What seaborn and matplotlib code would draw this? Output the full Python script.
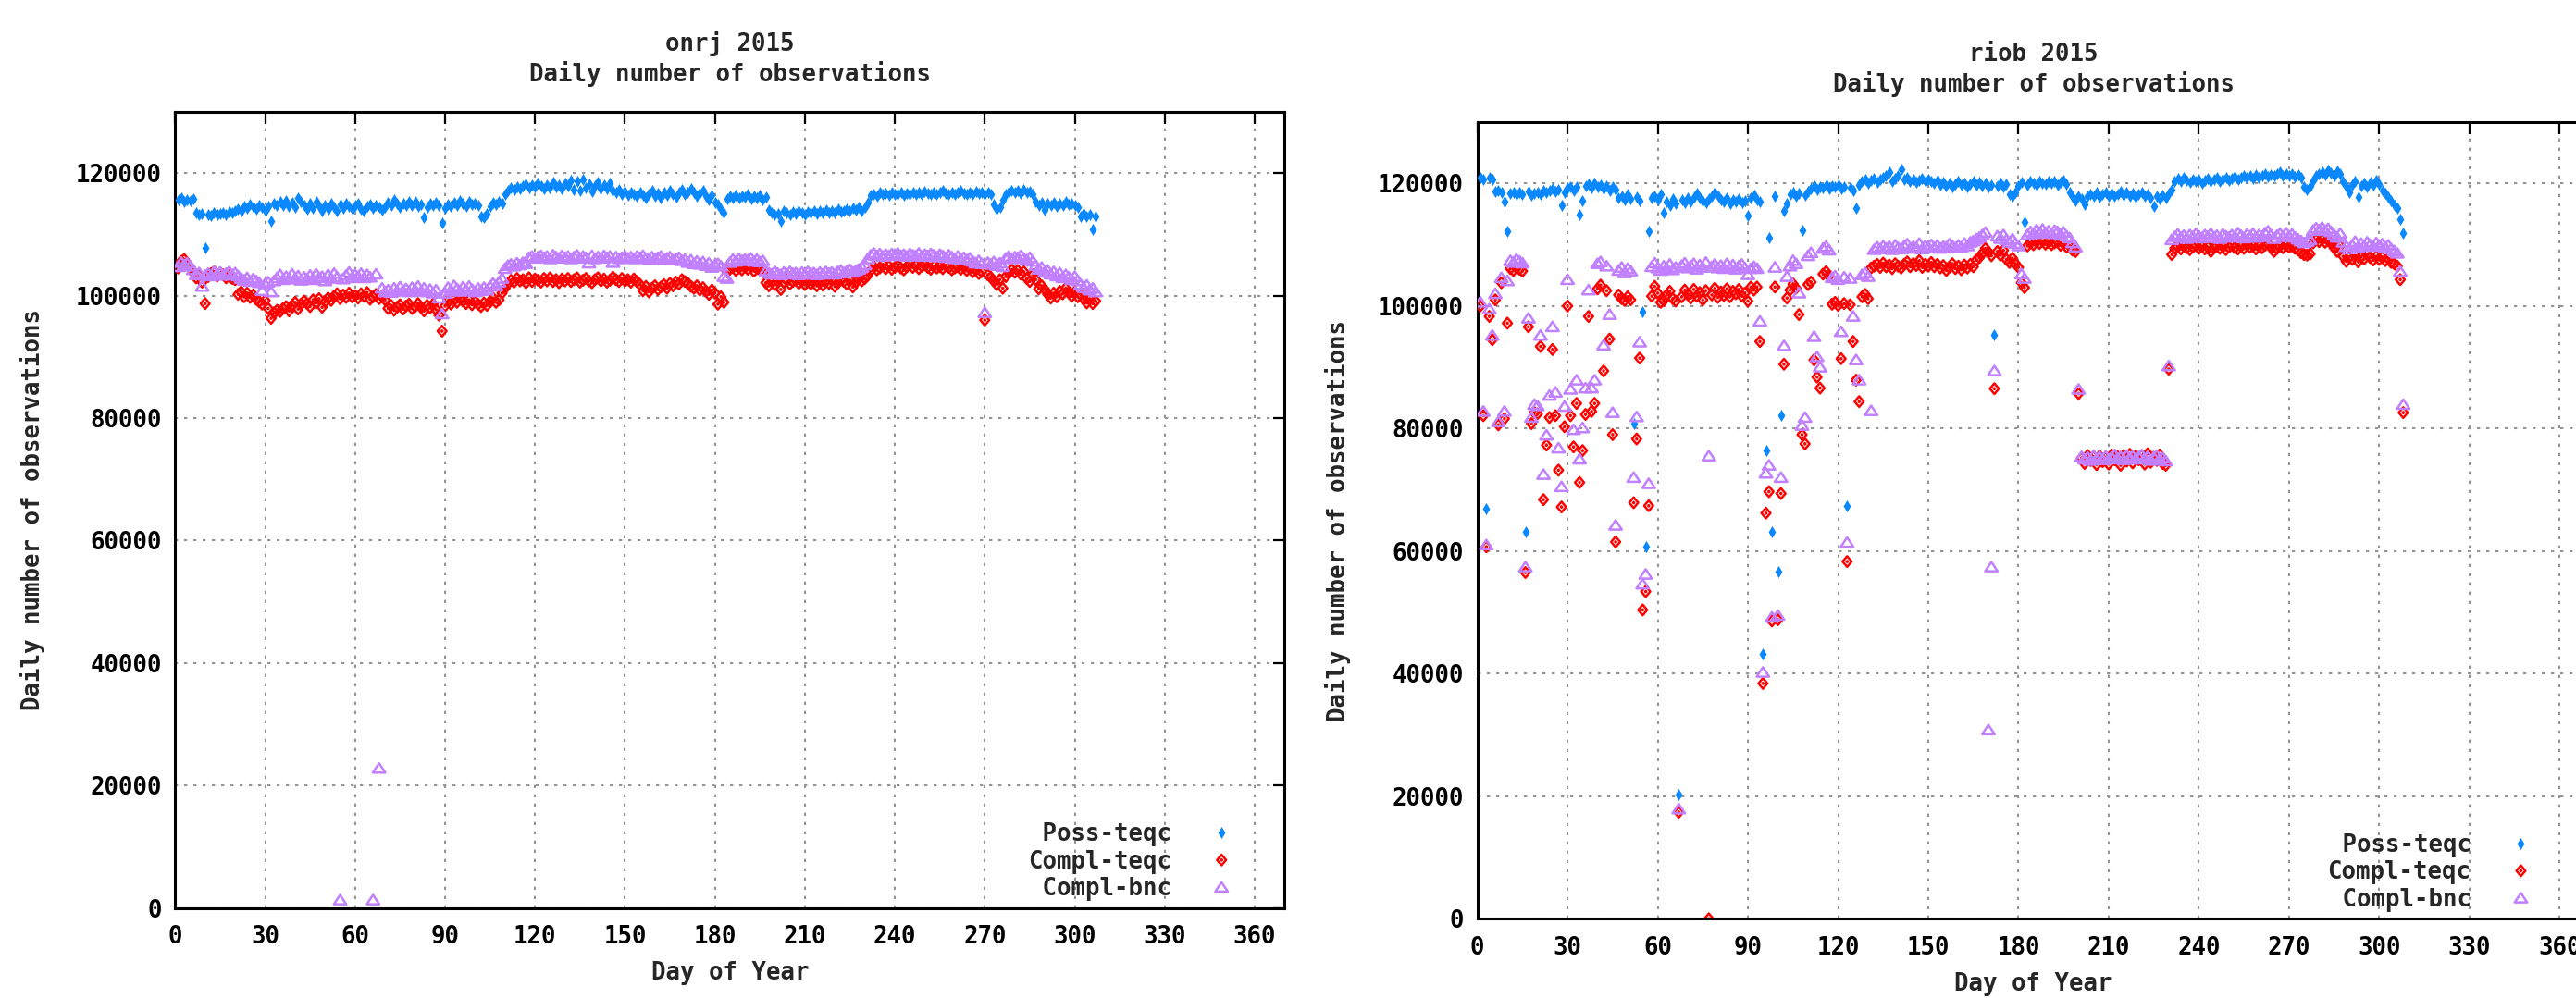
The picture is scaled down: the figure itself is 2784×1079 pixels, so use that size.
import numpy as np
import pandas as pd
import matplotlib
matplotlib.use("Agg")
import matplotlib.pyplot as plt
from matplotlib.path import Path
import seaborn as sns

# ---------------- data (thousands of observations, one value per day, day 1..N) ----------------
ONRJ_POSS = [
    115.6, 115.9, 115.4, 115.7, 115.5, 115.8, 113.5, 113.2, 113.4, 107.8,
    113.3, 113.1, 113.5, 113.2, 113.4, 113.6, 113.3, 113.7, 113.5, 113.9,
    114.2, 113.8, 114.6, 114.3, 114.9, 114.5, 114.2, 114.8, 114.4, 113.9,
    114.6, 112.1, 115.1, 114.7, 115.3, 114.8, 115.5, 114.6, 115.2, 114.4,
    115.9, 115.3, 114.7, 114.2, 115.0, 114.3, 115.4, 114.6, 113.9, 114.8,
    114.2, 115.1, 114.5, 113.8, 114.9, 114.3, 115.0, 114.6, 114.1, 114.8,
    115.0, 114.2, 113.8, 114.6, 114.9, 114.3, 114.7, 114.5, 114.0, 114.4,
    115.2, 114.8, 115.6, 115.1, 114.5, 115.0, 114.7, 115.4, 114.8, 115.3,
    114.6, 114.9, 112.8, 114.5, 115.1, 114.7, 115.2, 114.8, 111.8, 114.3,
    114.9, 114.6, 115.2, 114.8, 115.5, 115.0, 114.6, 115.3, 114.9, 115.1,
    114.7, 113.0, 112.8, 113.4, 114.6, 115.2, 114.9, 115.4, 115.0, 116.5,
    117.2, 117.6, 117.3, 117.8, 117.5, 117.9, 118.2, 117.6, 118.0, 117.7,
    118.3, 117.9, 117.4, 118.0, 117.6, 118.5, 117.8, 118.1, 117.5, 118.4,
    117.9, 118.8, 117.3, 118.6, 117.2, 118.9, 117.6, 118.2, 117.0, 117.9,
    118.5, 117.4, 118.0, 117.5, 118.3, 117.1, 116.8, 117.3, 116.6, 117.0,
    116.4, 116.9, 116.5, 116.2, 116.8, 116.4, 115.9, 116.6, 117.1, 116.3,
    116.7, 116.0, 116.9, 116.4, 117.2, 116.6, 116.1, 116.8, 117.3, 116.5,
    116.9, 117.4, 116.8, 116.2, 116.7, 117.1, 116.3, 115.6, 116.4, 115.2,
    114.9, 114.2, 113.6, 115.8, 116.2, 116.0, 116.4, 115.9, 116.3, 116.1,
    116.5, 115.8, 116.2, 116.0, 116.4, 115.7, 116.1, 114.0, 113.6, 113.2,
    113.4, 112.1, 113.8, 113.5, 113.3, 113.7, 113.4, 113.9, 113.6, 113.2,
    113.7, 113.5, 113.9, 113.4, 113.8, 113.6, 114.0, 113.5, 113.8, 113.6,
    114.1, 113.7, 113.9, 114.2, 113.8, 114.3, 114.0, 114.4, 113.9, 114.5,
    115.2, 116.4, 116.6, 116.3, 116.8, 116.5, 116.7, 116.4, 116.9, 116.6,
    116.5, 116.8, 116.4, 116.7, 116.6, 116.9, 116.5, 116.8, 116.6, 117.0,
    116.7, 116.5, 116.9, 116.6, 116.8, 117.1, 116.7, 116.5, 116.9, 116.6,
    116.8, 117.2, 116.7, 116.5, 116.9, 116.6, 117.0, 116.7, 116.8, 116.6,
    116.9, 116.5, 114.9, 114.2, 114.5, 115.6, 116.5, 116.9, 117.2, 116.8,
    117.1, 116.7, 117.3, 116.9, 117.0, 116.6, 115.3, 114.8, 115.2, 114.0,
    115.1, 114.7, 115.2, 114.6, 115.0, 114.8, 115.3, 114.9, 115.1, 114.7,
    114.5, 113.0, 113.4, 112.9, 113.3, 110.8, 113.0,
]
ONRJ_COMPL_TEQC = [
    104.5, 105.6, 105.9, 105.3, 104.6, 103.8, 102.9, 103.4, 102.2, 98.7,
    103.1, 103.6, 103.9, 103.2, 103.7, 103.4, 102.9, 103.5, 102.8, 102.6,
    100.2, 100.6, 99.8, 100.4, 99.7, 100.1, 99.4, 99.0, 98.6, 99.2,
    97.9, 96.3, 97.2, 97.6, 97.4, 97.9, 98.2, 97.5, 98.4, 98.9,
    97.8, 98.6, 99.1, 98.7, 98.2, 99.3, 98.8, 99.5, 98.1, 99.0,
    99.6, 99.2, 99.9, 100.3, 99.5, 100.1, 99.7, 100.4, 99.8, 100.0,
    99.6, 100.3, 99.9, 100.5, 99.4, 99.8, 100.2, 99.5, 99.9, 99.3,
    97.9, 98.4, 97.6, 98.1, 98.5, 97.8, 98.3, 98.6, 97.9, 98.2,
    98.7, 98.1, 97.5, 98.4, 98.0, 98.6, 97.7, 96.8, 94.2, 98.3,
    99.2, 98.6, 99.4, 98.9, 99.6, 99.1, 98.7, 99.3, 98.5, 99.0,
    98.6, 98.2, 98.8, 98.4, 99.0, 99.6, 98.9, 99.3, 100.4, 101.2,
    101.9, 102.5, 102.2, 102.8, 102.4, 102.6, 102.1, 102.9, 102.3, 102.7,
    102.5, 102.2, 102.8, 102.4, 102.9, 102.3, 102.6, 102.1, 102.7, 102.4,
    102.8, 102.3, 102.6, 102.9, 102.2, 102.5, 102.8, 102.4, 102.1, 102.6,
    102.9, 102.4, 102.7, 102.2, 102.5, 103.0, 102.6, 102.3, 102.8, 102.4,
    102.6, 102.2, 102.7, 102.3, 101.8, 100.8, 101.5, 100.6, 101.2, 101.6,
    101.0, 101.4, 101.8, 101.2, 102.0, 101.6, 102.2, 101.9, 102.6, 102.3,
    102.0, 101.5, 101.2, 101.6, 100.9, 101.3, 100.7, 100.2, 100.9, 100.4,
    98.6, 99.8, 98.9, 103.9, 104.3, 104.6, 104.1, 104.5, 104.2, 104.6,
    104.3, 104.7, 104.0, 104.4, 104.2, 103.8, 102.1, 101.6, 102.3, 101.8,
    102.4, 101.0, 102.2, 102.5, 101.9, 102.3, 102.6, 102.0, 102.4, 101.8,
    102.3, 101.9, 102.5, 101.6, 102.2, 101.7, 102.4, 102.0, 102.6, 101.5,
    102.1, 102.6, 102.3, 101.9, 102.5, 101.4, 102.2, 102.7, 102.4, 102.8,
    103.3, 104.1, 104.7, 104.2, 104.5, 105.1, 104.4, 104.8, 104.3, 104.6,
    104.9, 104.5, 104.2, 104.7, 105.2, 104.6, 104.9, 104.4, 104.8, 105.0,
    104.6, 104.3, 104.8, 104.5, 104.7, 104.4, 104.9, 104.6, 104.2, 104.5,
    104.7, 104.3, 104.6, 104.1, 104.4, 103.9, 104.2, 103.6, 103.9, 96.0,
    103.4, 103.0, 102.4, 101.8, 102.6, 101.2, 103.1, 103.7, 104.2, 103.8,
    104.1, 103.5, 103.9, 102.8, 102.3, 103.4, 102.6, 101.1, 101.6, 101.0,
    100.2, 99.6, 100.4, 99.8, 100.7, 100.3, 101.2, 100.5, 99.9, 100.6,
    99.8, 100.2, 99.4, 98.8, 99.5, 98.7, 99.1,
]
ONRJ_COMPL_BNC = [
    104.7, 105.4, 105.0, 105.3, 104.8, 104.2, 103.4, 103.7, 101.5, 103.3,
    103.6, 103.2, 103.9, 103.5, 103.8, 103.3, 103.6, 103.9, 103.4, 103.7,
    103.2, 102.8, 102.5, 102.9, 102.3, 102.7, 102.4, 102.1, 100.8, 101.9,
    102.2, 100.6, 102.4, 102.9, 103.4, 102.6, 103.1, 102.7, 103.5, 102.8,
    103.2, 102.5, 103.0, 102.7, 103.3, 102.6, 103.5, 102.9, 103.1, 102.4,
    103.4, 102.8, 103.6, 103.0, 1.3, 102.7, 103.3, 103.8, 102.9, 103.4,
    103.1, 103.6, 102.9, 103.4, 103.0, 1.3, 103.5, 22.8, 101.2, 100.6,
    100.9, 100.5, 101.2, 100.7, 101.4, 100.8, 101.1, 100.6, 101.3, 100.9,
    101.5, 100.7, 101.2, 100.6, 101.0, 100.4, 100.9, 99.6, 97.0, 100.4,
    101.3, 100.8, 101.6, 101.1, 100.7, 101.4, 100.9, 101.5, 101.0, 100.6,
    101.2, 100.8, 101.3, 100.9, 101.5, 102.0, 101.6, 102.2, 102.8, 104.4,
    104.9, 105.1, 104.8, 105.3, 105.0, 105.4, 105.2, 106.2, 106.4, 106.1,
    106.3, 106.5, 106.2, 106.4, 106.0, 106.6, 106.3, 106.1, 106.5, 106.2,
    106.4, 106.0, 106.3, 106.6, 106.1, 106.4, 106.2, 105.3, 106.5, 106.0,
    106.3, 106.1, 106.5, 106.2, 106.4, 105.4, 106.3, 106.0, 106.2, 106.4,
    106.1, 106.3, 106.0, 106.4, 106.2, 106.5, 106.1, 105.9, 106.3, 106.0,
    106.2, 106.4, 105.9, 106.1, 106.3, 105.8, 106.0, 106.2, 105.7, 105.9,
    105.4, 105.8, 105.2, 105.6, 105.1, 105.5, 104.9, 105.3, 104.6, 105.0,
    105.2, 104.8, 103.1, 102.8, 105.4, 105.9, 105.6, 106.0, 105.7, 105.9,
    105.8, 106.1, 105.6, 105.9, 105.5, 105.7, 104.0, 103.7, 103.5, 103.9,
    103.6, 103.4, 103.8, 103.5, 103.9, 103.6, 103.7, 103.4, 103.8, 103.5,
    103.9, 103.6, 103.7, 103.4, 103.8, 103.5, 103.9, 103.6, 103.8, 103.5,
    103.9, 104.1, 103.7, 104.0, 104.2, 103.8, 104.1, 104.3, 104.6, 105.0,
    106.0, 106.6, 106.9, 106.5, 106.8, 106.4, 106.7, 106.5, 106.8, 106.6,
    106.9, 106.5, 106.7, 106.4, 106.8, 106.6, 106.5, 106.9, 106.4, 106.7,
    106.5, 106.8, 106.6, 106.3, 106.7, 106.5, 106.2, 106.6, 106.3, 106.0,
    106.4, 105.9, 106.2, 105.8, 106.1, 105.6, 105.3, 105.7, 105.2, 97.2,
    105.4, 105.1, 105.5, 104.9, 105.3, 104.7, 106.1, 106.4, 106.0, 106.3,
    106.2, 106.5, 106.1, 105.8, 106.2, 105.6, 104.9, 104.3, 104.6, 103.8,
    104.1, 103.5, 103.9, 103.2, 103.7, 102.9, 103.4, 103.0, 102.6, 103.1,
    102.4, 101.8, 101.3, 101.7, 100.9, 101.2, 100.6,
]

RIOB_POSS = [
    120.9, 120.6, 66.9, 121.0, 120.7, 118.7, 118.9, 118.5, 117.0, 112.2,
    118.4, 118.6, 118.2, 118.5, 118.3, 63.2, 118.7, 118.1, 118.4, 118.6,
    118.2, 118.8, 118.5, 118.9, 119.2, 118.7, 119.0, 116.5, 118.6, 119.3,
    119.5, 118.8, 119.4, 114.9, 117.2, 119.6, 119.9, 119.3, 120.1, 119.5,
    119.8, 119.2, 119.6, 118.9, 119.4, 119.0, 117.6, 117.9, 117.3, 118.2,
    117.5, 80.8, 117.8, 117.2, 99.0, 60.7, 112.2, 117.6, 118.0, 117.4,
    118.2, 115.2, 117.0, 116.4, 117.5, 116.8, 20.3, 117.3, 116.9, 117.6,
    117.1, 117.8, 118.4, 117.6, 117.2, 116.9, 117.5, 118.0, 118.6, 117.9,
    117.4, 117.1, 117.6, 116.8, 117.3, 117.0, 117.5, 116.9, 117.2, 114.7,
    117.7, 118.1, 117.4, 117.0, 43.2, 76.5, 111.2, 63.1, 118.0, 56.6,
    82.1, 115.5, 116.7, 118.3, 118.6, 117.9, 118.4, 112.4, 118.1, 118.7,
    119.2, 119.6, 119.0, 119.5, 119.3, 119.8, 119.1, 119.6, 119.4, 119.7,
    119.2, 119.5, 67.4, 119.3, 118.8, 116.0, 119.8, 120.3, 120.6, 120.1,
    120.5, 120.8, 120.2, 120.6, 120.9, 121.2, 121.9, 120.4, 120.8, 121.3,
    122.3, 120.6, 120.9, 120.3, 120.7, 120.2, 120.5, 120.8, 120.4, 120.6,
    120.3, 120.1, 120.5, 119.8, 120.2, 119.6, 120.0, 119.4, 119.9, 120.3,
    119.7, 120.1, 119.5, 119.9, 120.4, 119.8, 120.2, 119.6, 120.0, 119.5,
    119.8, 95.3, 119.6, 120.1, 119.4, 119.9, 118.3, 118.0, 118.5, 119.6,
    120.2, 113.7, 119.8, 120.3, 120.0, 119.7, 120.4, 120.1, 119.9, 120.3,
    120.0, 120.4, 119.8, 120.2, 120.5, 119.9, 118.6, 117.8, 117.2, 117.9,
    117.5, 116.6, 117.9, 118.3, 118.0, 118.5, 117.8, 118.2, 118.6, 118.0,
    118.4, 117.9, 118.3, 118.7, 118.1, 118.5, 118.0, 118.4, 117.8, 118.2,
    118.6, 117.9, 118.3, 117.6, 116.2, 118.0, 117.5, 118.1, 117.7, 118.4,
    119.0, 120.3, 120.8, 120.4, 120.9, 120.5, 120.2, 120.7, 120.3, 120.6,
    120.1, 120.5, 120.8, 120.3, 120.6, 121.0, 120.4, 120.7, 120.9, 120.5,
    120.8, 121.1, 120.6, 121.0, 121.3, 120.9, 121.2, 120.8, 121.4, 121.0,
    121.3, 121.6, 121.1, 121.4, 121.2, 121.5, 121.8, 121.3, 121.6, 121.2,
    121.5, 121.1, 121.4, 120.9, 119.4, 119.0, 119.6, 120.5, 121.2, 121.6,
    121.9, 121.4, 122.1, 121.7, 121.3, 122.0, 121.5, 120.4, 119.5, 118.6,
    119.8, 120.3, 117.8, 119.6, 120.1, 119.4, 120.2, 119.7, 120.5, 119.9,
    118.9, 118.4, 117.8, 117.2, 116.5, 116.0, 114.2, 111.9,
]
RIOB_COMPL_TEQC = [
    100.0, 82.1, 60.7, 98.3, 94.5, 101.0, 80.6, 103.8, 81.6, 97.2,
    106.1, 105.8, 106.3, 106.0, 105.7, 56.5, 96.6, 80.8, 82.6, 82.4,
    93.4, 68.4, 77.3, 81.8, 92.9, 82.1, 73.2, 67.2, 80.3, 100.0,
    82.1, 77.0, 84.1, 71.2, 76.4, 82.3, 98.3, 82.8, 84.1, 102.8,
    103.4, 89.4, 102.5, 94.6, 79.0, 61.5, 101.8, 101.2, 100.9, 101.5,
    101.0, 67.9, 78.3, 91.5, 50.4, 53.4, 67.4, 101.6, 103.2, 102.1,
    100.6, 100.9, 101.8, 102.4, 101.2, 100.8, 17.4, 101.5, 102.6, 101.9,
    101.3, 102.7, 101.6, 102.2, 101.0, 102.5, 0.0, 101.8, 102.9, 101.4,
    102.3, 101.7, 102.8, 101.5, 102.4, 102.0, 102.7, 101.6, 102.1, 100.8,
    103.1, 102.6, 103.1, 94.2, 38.4, 66.2, 69.7, 48.6, 103.1, 48.8,
    69.4, 90.5, 101.3, 102.6, 103.6, 102.9, 98.6, 79.0, 77.5, 103.5,
    103.9, 91.2, 88.4, 86.6, 105.2, 105.6, 104.9, 100.3, 100.6, 100.1,
    91.4, 100.4, 58.3, 100.2, 94.2, 87.9, 84.4, 101.5, 101.9, 101.2,
    106.2, 106.5, 106.8, 106.3, 107.0, 106.4, 106.7, 106.1, 106.9, 106.5,
    106.2, 106.8, 107.2, 106.4, 106.9, 106.6, 107.4, 106.3, 106.8, 106.5,
    107.1, 106.4, 106.8, 106.2, 106.6, 105.8, 106.3, 106.9, 106.1, 106.5,
    105.9, 106.7, 106.2, 106.8, 106.4, 107.5, 107.9, 108.6, 109.4, 108.8,
    108.2, 86.5, 108.9, 108.3, 109.1, 107.6, 107.1, 107.8, 106.9, 106.3,
    103.8, 103.0, 109.8, 110.3, 110.0, 110.5, 110.2, 110.6, 110.1, 110.4,
    110.0, 110.3, 110.5, 109.9, 110.2, 109.6, 109.8, 109.1, 108.9, 85.7,
    75.2, 74.3, 75.6, 74.8, 75.4, 74.1, 75.5, 74.6, 75.3, 74.2,
    75.7, 74.9, 75.4, 74.0, 75.6, 74.7, 75.8, 74.4, 75.5, 74.9,
    75.6, 74.2, 75.9, 74.5, 75.3, 74.8, 75.7, 74.3, 74.0, 89.7,
    108.4, 109.4, 109.7, 109.3, 109.8, 109.5, 109.2, 109.6, 109.9, 109.4,
    109.7, 109.3, 109.6, 108.9, 109.5, 109.8, 109.4, 109.7, 109.2, 109.6,
    109.9, 109.5, 109.3, 109.7, 109.4, 110.0, 109.6, 109.8, 109.3, 109.7,
    109.5, 109.9, 110.1, 109.6, 108.9, 109.4, 109.8, 109.5, 109.9, 109.6,
    109.8, 109.4, 109.2, 108.7, 108.4, 108.3, 108.5, 110.3, 110.8, 110.5,
    110.9, 110.4, 110.7, 110.2, 109.5, 108.9, 109.8, 108.1, 107.3, 108.0,
    107.6, 108.3, 107.2, 108.0, 107.7, 108.4, 107.9, 107.5, 108.1, 107.6,
    108.0, 107.4, 107.8, 107.1, 106.9, 106.5, 104.3, 82.6,
]
RIOB_COMPL_BNC = [
    100.6, 82.8, 61.0, 99.5, 95.2, 102.0, 81.1, 104.6, 82.8, 104.1,
    107.4, 107.1, 107.6, 107.3, 107.0, 57.4, 98.0, 81.8, 83.9, 83.7,
    95.2, 72.5, 78.9, 85.4, 96.6, 85.9, 76.8, 70.5, 83.6, 104.3,
    86.4, 79.8, 87.9, 75.0, 80.1, 86.6, 102.6, 86.6, 87.9, 106.9,
    107.2, 93.6, 106.5, 98.6, 82.6, 64.2, 105.8, 106.3, 105.4, 106.1,
    105.7, 72.0, 81.9, 94.1, 54.6, 56.2, 71.0, 106.4, 107.0, 106.2,
    105.8, 106.5, 106.1, 106.8, 105.9, 106.3, 17.9, 106.6, 107.0, 106.2,
    106.5, 106.9, 106.0, 106.7, 106.3, 107.1, 75.5, 106.4, 106.8, 106.2,
    106.6, 106.1, 106.9, 106.3, 106.7, 106.0, 106.5, 106.8, 106.2, 105.1,
    106.1, 106.4, 106.1, 97.5, 40.2, 72.7, 74.0, 49.2, 106.3, 49.5,
    72.0, 93.5, 104.8, 106.5, 107.4, 106.9, 102.1, 80.5, 81.8, 108.2,
    108.7, 95.0, 91.7, 90.0, 109.4, 109.7, 109.1, 104.6, 104.9, 104.3,
    95.8, 104.7, 61.4, 104.5, 98.3, 91.2, 87.9, 105.1, 105.4, 104.8,
    82.9, 109.2, 109.6, 109.3, 109.8, 109.4, 109.7, 109.2, 109.9, 109.5,
    109.3, 109.8, 110.1, 109.4, 109.7, 109.5, 110.2, 109.3, 109.8, 109.6,
    110.0, 109.5, 109.9, 109.4, 109.7, 109.6, 110.1, 109.8, 109.5, 109.9,
    109.6, 110.2, 109.8, 110.4, 110.6, 110.9, 111.2, 111.6, 112.0, 30.8,
    57.4, 89.4, 111.4, 111.0, 111.6, 110.8, 110.4, 110.9, 110.2, 109.8,
    105.2, 104.5, 111.6, 112.1, 111.8, 112.4, 112.0, 112.5, 111.9, 112.2,
    111.8, 112.3, 112.1, 111.7, 112.0, 111.4, 111.1, 110.3, 109.6, 86.4,
    75.4, 75.0, 75.3, 74.8, 75.6, 75.1, 75.4, 74.9, 75.5, 75.0,
    75.3, 75.7, 75.1, 75.4, 74.9, 75.6, 75.2, 75.5, 75.0, 75.4,
    75.7, 75.1, 75.4, 74.8, 75.3, 75.6, 75.0, 75.2, 74.7, 90.2,
    110.8, 111.3, 111.7, 111.2, 111.5, 111.0, 111.6, 111.3, 111.8, 111.4,
    111.1, 111.6, 111.3, 111.8, 111.2, 111.5, 111.0, 111.7, 111.4, 111.2,
    111.6, 111.3, 111.9, 111.5, 111.1, 111.7, 111.4, 111.8, 111.2, 111.6,
    111.3, 111.9, 112.2, 111.6, 111.0, 111.5, 111.8, 111.3, 111.9, 111.4,
    111.7, 111.2, 110.9, 110.6, 110.3, 110.5, 110.8, 112.3, 112.7, 112.4,
    112.8, 112.3, 112.6, 112.1, 111.6, 111.2, 111.8, 110.4, 109.7, 109.3,
    109.9, 110.5, 109.6, 110.2, 109.8, 110.4, 110.0, 109.7, 110.3, 109.9,
    110.1, 109.6, 109.9, 109.3, 109.0, 108.6, 105.6, 83.9,
]

SERIES_NAMES = ["Poss-teqc", "Compl-teqc", "Compl-bnc"]
LEGEND_LABELS = [" Poss-teqc", "Compl-teqc", " Compl-bnc"]   # padded: right-aligned in mono font
TITLES = ["onrj 2015\nDaily number of observations", "riob 2015\nDaily number of observations"]
X_LABEL = "Day of Year"
Y_LABEL = "Daily number of observations"
X_TICKS = [0, 30, 60, 90, 120, 150, 180, 210, 240, 270, 300, 330, 360]
Y_TICKS = [0, 20000, 40000, 60000, 80000, 100000, 120000]
Y_TICK_LABELS = ["0", "20000", "40000", "60000", "80000", "100000", "120000"]

# ---------------- style ----------------
BLUE = "#0a88ff"
RED = "#ff0000"
PURPLE = "#c080ff"
FONT = ["DejaVu Sans Mono", "DejaVu Sans"]
FS = 18.5

sns.set_style("white")
plt.rcParams["font.family"] = FONT
plt.rcParams["font.weight"] = "bold"
plt.rcParams["font.size"] = FS

M, L, C = Path.MOVETO, Path.LINETO, Path.CLOSEPOLY
THIN_DIAMOND = Path([(0, 1), (0.6, 0), (0, -1), (-0.6, 0), (0, 1)], [M, L, L, L, C])
DOT_DIAMOND = Path([(0, 1), (0.85, 0), (0, -1), (-0.85, 0), (0, 1),
                    (0, 0.12), (0.1, 0), (0, -0.12), (-0.1, 0), (0, 0.12)],
                   [M, L, L, L, C, M, L, L, L, C])
OPEN_TRI = Path([(-1, -0.68), (1, -0.68), (0, 0.82), (-1, -0.68)], [M, L, L, C])


def frame(vals):
    v = np.asarray(vals, dtype=float)
    return pd.DataFrame({"day": np.arange(1, len(v) + 1), "obs": v * 1000.0})


fig = plt.figure(figsize=(27.84, 10.79), dpi=100)
fig.patch.set_facecolor("white")
ax1 = fig.add_axes([0.0680, 0.0902, 0.4307, 0.7977])
ax2 = fig.add_axes([0.5735, 0.0794, 0.4318, 0.7982])


def panel(ax, title, poss, ct, cb, leg_x, ylab_x):
    sns.scatterplot(data=frame(poss), x="day", y="obs", ax=ax, marker=THIN_DIAMOND, s=88,
                    color=BLUE, linewidth=0, label=LEGEND_LABELS[0], legend=False, zorder=3)
    sns.scatterplot(data=frame(ct), x="day", y="obs", ax=ax, marker=DOT_DIAMOND, s=68,
                    facecolor="none", edgecolor=RED, linewidth=1.8, label=LEGEND_LABELS[1],
                    legend=False, zorder=4)
    sns.scatterplot(data=frame(cb), x="day", y="obs", ax=ax, marker=OPEN_TRI, s=95,
                    facecolor="none", edgecolor=PURPLE, linewidth=1.8, label=LEGEND_LABELS[2],
                    legend=False, zorder=5)
    ax.set_xlim(0, 370)
    ax.set_ylim(0, 130000)
    ax.set_xticks(X_TICKS)
    ax.set_xticklabels([str(t) for t in X_TICKS])
    ax.set_yticks(Y_TICKS)
    ax.set_yticklabels(Y_TICK_LABELS)
    ax.tick_params(direction="in", length=9, width=1.6, top=True, right=True,
                   labelsize=FS, colors="black")
    ax.tick_params(axis="x", pad=13.5)
    ax.tick_params(axis="y", pad=10.5)
    ax.set_axisbelow(True)
    ax.grid(True, color="#959595", linestyle=(0, (1.6, 3.2)), linewidth=1.5)
    for sp in ax.spines.values():
        sp.set_color("black")
        sp.set_linewidth(2.2)
        sp.set_visible(True)
    ax.set_title(title, fontsize=FS, fontweight="bold", pad=24, linespacing=1.2)
    ax.set_xlabel(X_LABEL, fontsize=FS, fontweight="bold")
    ax.set_ylabel(Y_LABEL, fontsize=FS, fontweight="bold")
    ax.xaxis.set_label_coords(0.5, -0.067)
    ax.yaxis.set_label_coords(ylab_x, 0.5)
    ax.legend(loc="lower right", bbox_to_anchor=(leg_x, 0.0085), frameon=False,
              markerfirst=False, handlelength=2.6, handletextpad=0.8, labelspacing=0.14,
              borderpad=0, borderaxespad=0, scatteryoffsets=[0.5],
              prop={"family": FONT, "weight": "bold", "size": FS})


panel(ax1, TITLES[0], ONRJ_POSS, ONRJ_COMPL_TEQC, ONRJ_COMPL_BNC, 0.971, -0.117)
panel(ax2, TITLES[1], RIOB_POSS, RIOB_COMPL_TEQC, RIOB_COMPL_BNC, 0.966, -0.1136)

fig.savefig("out.png", dpi=100, facecolor="white")
